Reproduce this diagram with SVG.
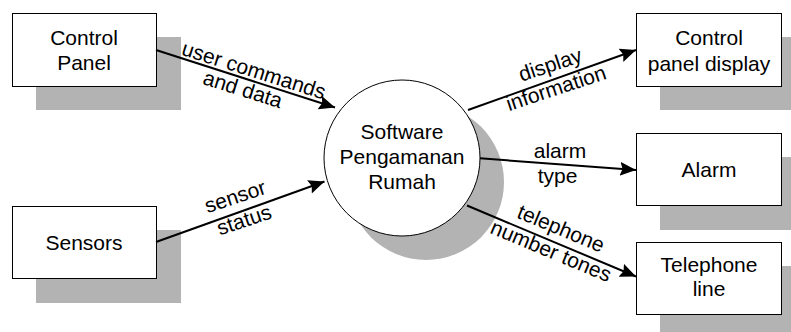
<svg xmlns="http://www.w3.org/2000/svg" width="791" height="332" viewBox="0 0 791 332">
  <style>
    .shadow { fill: #b3b3b3; stroke: none; }
    .box { fill: #ffffff; stroke: #000000; stroke-width: 1; }
    .txt { font-family: "Liberation Sans", Arial, Helvetica, sans-serif; font-size: 21px; fill: #000000; text-anchor: middle; }
    .flow { stroke: #000000; stroke-width: 2; fill: none; marker-end: url(#arrow); }
  </style>
  <defs>
    <marker id="arrow" markerUnits="userSpaceOnUse" markerWidth="17" markerHeight="15" refX="16" refY="7" orient="auto">
      <path d="M0,0 L16,7 L0,14 L2.5,7 Z" fill="#000000"/>
    </marker>
  </defs>

  <rect width="791" height="332" fill="#ffffff"/>

  <!-- external entity: Control Panel -->
  <g id="control-panel">
    <rect class="shadow" x="36" y="37" width="145" height="73"/>
    <rect class="box" x="12.5" y="13.5" width="144" height="73"/>
    <text class="txt" x="84" y="45">Control</text>
    <text class="txt" x="84" y="70">Panel</text>
  </g>

  <!-- external entity: Sensors -->
  <g id="sensors">
    <rect class="shadow" x="36" y="230" width="145" height="73"/>
    <rect class="box" x="12.5" y="206.5" width="144" height="72"/>
    <text class="txt" x="84" y="249.5">Sensors</text>
  </g>

  <!-- central process -->
  <g id="software">
    <circle class="shadow" cx="426" cy="182" r="78"/>
    <circle class="box" cx="402" cy="158" r="78"/>
    <text class="txt" x="402" y="139">Software</text>
    <text class="txt" x="402" y="164">Pengamanan</text>
    <text class="txt" x="402" y="189">Rumah</text>
  </g>

  <!-- external entity: Control panel display -->
  <g id="control-panel-display">
    <rect class="shadow" x="660" y="37" width="145" height="73"/>
    <rect class="box" x="636.5" y="13.5" width="145" height="73"/>
    <text class="txt" x="709" y="45">Control</text>
    <text class="txt" x="709" y="70.5">panel display</text>
  </g>

  <!-- external entity: Alarm -->
  <g id="alarm">
    <rect class="shadow" x="660" y="157" width="145" height="73"/>
    <rect class="box" x="636.5" y="133.5" width="145" height="72"/>
    <text class="txt" x="709" y="177">Alarm</text>
  </g>

  <!-- external entity: Telephone line -->
  <g id="telephone-line">
    <rect class="shadow" x="660" y="266" width="145" height="73"/>
    <rect class="box" x="636.5" y="242.5" width="145" height="72"/>
    <text class="txt" x="709" y="271.5">Telephone</text>
    <text class="txt" x="709" y="296">line</text>
  </g>

  <!-- data flows -->
  <g id="connectors">
    <line class="flow" x1="156" y1="50" x2="335" y2="107.5"/>
    <line class="flow" x1="156" y1="242" x2="324.5" y2="181.5"/>
    <line class="flow" x1="468" y1="110" x2="636" y2="50"/>
    <line class="flow" x1="480" y1="158.3" x2="636" y2="170"/>
    <line class="flow" x1="467" y1="205.5" x2="636" y2="276.5"/>

    <text class="txt" transform="translate(251.7,77) rotate(17.5)"><tspan x="0" y="0">user commands</tspan><tspan x="-4.7" y="21.5">and data</tspan></text>
    <text class="txt" transform="translate(237.5,203.3) rotate(-18.5)"><tspan x="0" y="0">sensor</tspan><tspan x="1" y="25">status</tspan></text>
    <text class="txt" transform="translate(552.5,71.5) rotate(-18.3)"><tspan x="0" y="0">display</tspan><tspan x="-1.9" y="24">information</tspan></text>
    <text class="txt"><tspan x="560" y="158.3">alarm</tspan><tspan x="557.5" y="183.3">type</tspan></text>
    <text class="txt" transform="translate(558.3,235) rotate(22.7)"><tspan x="0" y="0">telephone</tspan><tspan x="-0.5" y="24.6">number tones</tspan></text>
  </g>
</svg>
